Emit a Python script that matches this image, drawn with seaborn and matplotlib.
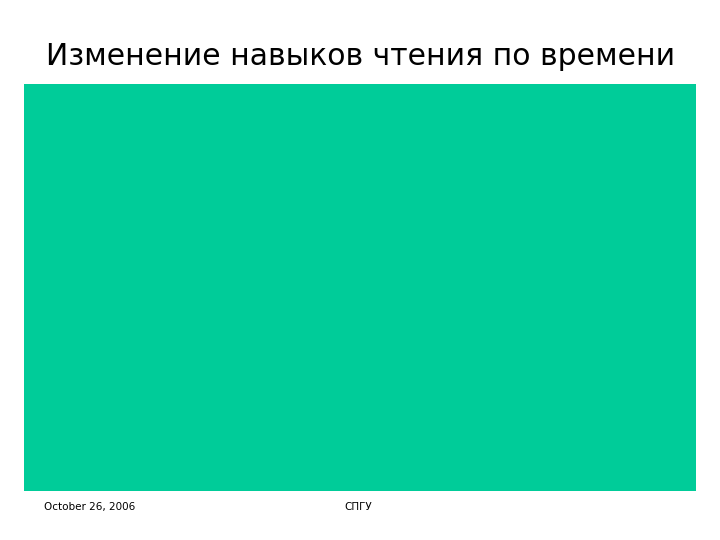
import numpy as np
import matplotlib
matplotlib.use("Agg")
import matplotlib.pyplot as plt
from matplotlib.colors import ListedColormap
import seaborn as sns

# slide content
title = "Изменение навыков чтения по времени"
footer_date = "October 26, 2006"
footer_org = "СПГУ"
panel_value = np.array([[1.0]])   # empty chart area, one solid cell
panel_color = "#00CC99"

sns.set_theme(style="white")
plt.rcParams['font.family'] = ['DejaVu Sans']

fig = plt.figure(figsize=(7.2, 5.4), dpi=100)
fig.patch.set_facecolor("white")

ax = fig.add_axes([24 / 720, 1 - 491 / 540, 672 / 720, 407 / 540])
sns.heatmap(panel_value, cmap=ListedColormap([panel_color]), cbar=False,
            xticklabels=False, yticklabels=False, ax=ax)
ax.set_xlabel("")
ax.set_ylabel("")

fig.text(361 / 720, 1 - 65 / 540, title, ha="center", va="baseline",
         fontsize=21.5, color="black")
fig.text(44 / 720, 1 - 510 / 540, footer_date, ha="left", va="baseline",
         fontsize=7.5, color="black")
fig.text(358 / 720, 1 - 510 / 540, footer_org, ha="center", va="baseline",
         fontsize=7.5, color="black")

fig.savefig("out.png", dpi=100)
